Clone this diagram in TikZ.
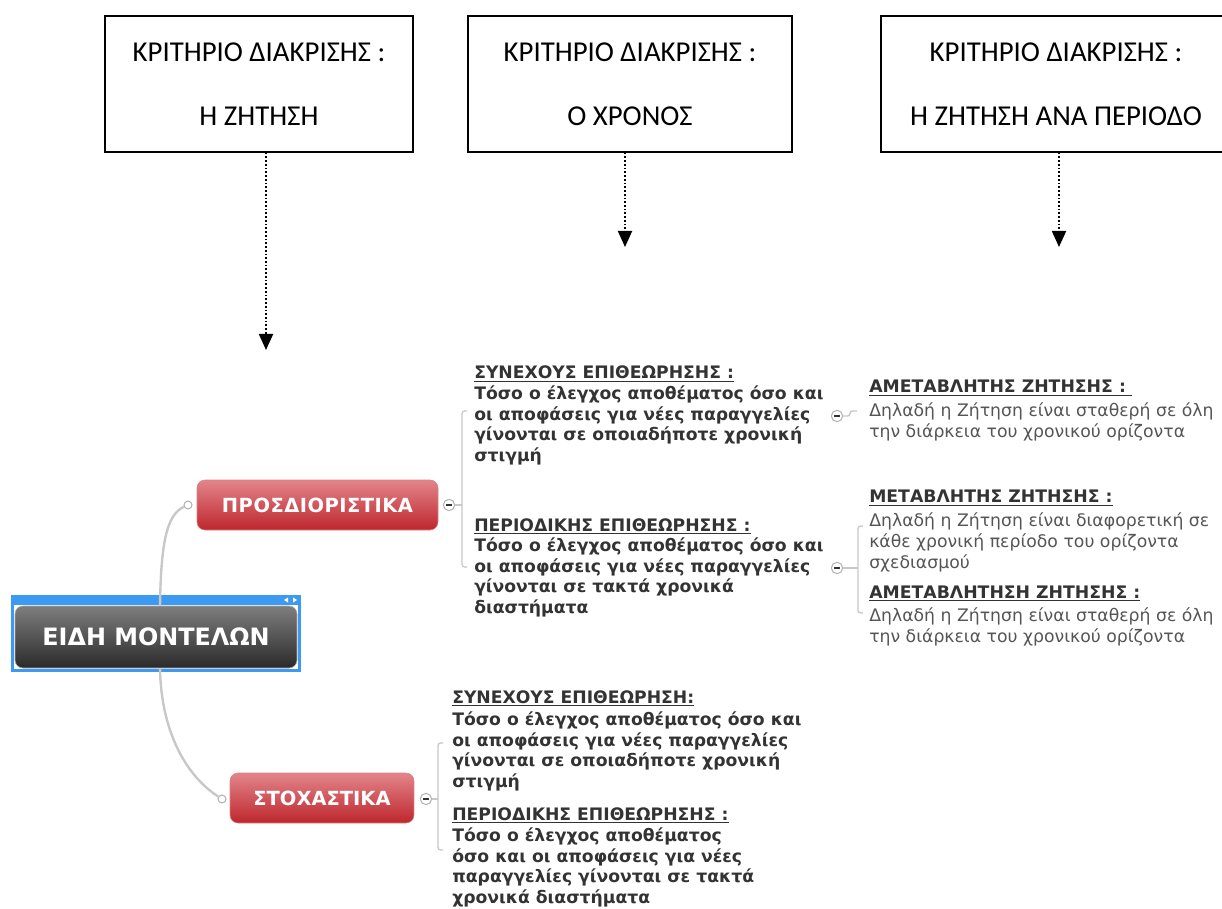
\documentclass[tikz,border=0pt]{standalone}
\usepackage{fontspec}
\setmainfont{Carlito}
\newfontfamily\mapfont{DejaVu Sans}
\usetikzlibrary{arrows.meta,calc}

\definecolor{frameblue}{HTML}{3D9AF2}
\definecolor{linkgray}{HTML}{C8C8C8}
\definecolor{knobgray}{HTML}{B4B4B4}
\definecolor{inkdark}{HTML}{333333}
\definecolor{inkmid}{HTML}{555555}
\definecolor{redtop}{HTML}{E2858A}
\definecolor{redmid}{HTML}{C42930}
\definecolor{redbot}{HTML}{BE262D}
\definecolor{greytop}{HTML}{7E7E7E}
\definecolor{greymid}{HTML}{363636}
\definecolor{greybot}{HTML}{2A2A2A}

% a heavier underline for the topic headings
\newcommand{\headline}[1]{\underline{#1}}

\tikzset{
  critbox/.style={draw=black, line width=1.1pt, align=center, inner sep=0pt,
    font=\fontsize{21.6}{48}\selectfont, minimum height=102pt},
  critlink/.style={line width=1.4pt, dash pattern=on 1.3pt off 1.5pt,
    -{Triangle[width=10.5pt,length=12pt]}},
  rootbox/.style={rounded corners=6pt, draw=gray!70, top color=greytop,
    middle color=greymid, bottom color=greybot, text=white, inner sep=0pt,
    font=\mapfont\bfseries\fontsize{17.9}{20}\selectfont,
    minimum width=211.5pt, minimum height=46.5pt},
  redbox/.style={rounded corners=6pt, draw=redmid!60!white, top color=redtop,
    middle color=redmid, bottom color=redbot, text=white, inner sep=0pt,
    font=\mapfont\bfseries\fontsize{14.6}{17}\selectfont, minimum height=37.5pt},
  knob/.style={circle, draw=knobgray, fill=white, line width=0.8pt,
    minimum size=6pt, inner sep=0pt},
  fold/.style={circle, draw=knobgray, fill=white, line width=0.8pt,
    minimum size=8.5pt, inner sep=0pt,
    path picture={\draw[line width=1.1pt, inkdark]
      ([xshift=-2.3pt]path picture bounding box.center) --
      ([xshift=2.3pt]path picture bounding box.center);}},
  trunk/.style={draw=linkgray, line width=1.8pt},
  twig/.style={draw=linkgray, line width=1pt, rounded corners=2pt},
  topicbold/.style={anchor=base west, inner sep=0pt, text=inkdark,
    font=\mapfont\bfseries\fontsize{12.9}{15.4}\selectfont},
  topicplain/.style={anchor=base west, inner sep=0pt, text=inkmid,
    font=\mapfont\fontsize{12.95}{15.6}\selectfont},
}

\begin{document}
\begin{tikzpicture}[x=0.75pt,y=-0.75pt]
\useasboundingbox (0,0) rectangle (1222,909);

% criteria boxes
\node[critbox, minimum width=231pt] (box1) at (259,84)
  {ΚΡΙΤΗΡΙΟ ΔΙΑΚΡΙΣΗΣ :\\Η ΖΗΤΗΣΗ};
\node[critbox, minimum width=243pt] (box2) at (630,84)
  {ΚΡΙΤΗΡΙΟ ΔΙΑΚΡΙΣΗΣ :\\Ο ΧΡΟΝΟΣ};
\node[critbox, minimum width=262.5pt] (box3) at (1056,84)
  {ΚΡΙΤΗΡΙΟ ΔΙΑΚΡΙΣΗΣ :\\Η ΖΗΤΗΣΗ ΑΝΑ ΠΕΡΙΟΔΟ};

\coordinate (t1) at (266,350);
\coordinate (t2) at (625,247);
\coordinate (t3) at (1059,247);
\draw[critlink] (box1.south -| t1) -- (t1);
\draw[critlink] (box2.south -| t2) -- (t2);
\draw[critlink] (box3.south -| t3) -- (t3);

% central topic with its selection frame
\fill[frameblue] (11,595) rectangle (301,672);
\fill[white] (14,605) rectangle (298,669);
\fill[white] (284,600) -- (288,597.5) -- (288,602.5) -- cycle;
\fill[white] (297,600) -- (293,597.5) -- (293,602.5) -- cycle;
\node[rootbox] (root) at (156,637) {ΕΙΔΗ ΜΟΝΤΕΛΩΝ};

% main branches
\node[redbox, minimum width=180.75pt] (prosd) at (317.5,505)
  {\addfontfeature{LetterSpace=2.5}ΠΡΟΣΔΙΟΡΙΣΤΙΚΑ};
\node[redbox, minimum width=138pt] (stoch) at (322,798) {ΣΤΟΧΑΣΤΙΚΑ};
\node[knob] (k1) at (188,505) {};
\node[knob] (k2) at (222,799) {};
\draw[trunk] ($(root.north)+(4,0)$) .. controls (161,545) and (166,515) .. (k1);
\draw[trunk] ($(root.south)+(4,0)$) .. controls (161,730) and (185,775) .. (k2);

\node[fold] (m1) at (449,505) {};
\node[fold] (m2) at (426,799) {};

% subtopics
\node[topicbold] (tA) at (474,379) {\parbox[t]{300pt}{\raggedright
  \headline{ΣΥΝΕΧΟΥΣ ΕΠΙΘΕΩΡΗΣΗΣ :}\\
  Τόσο ο έλεγχος αποθέματος όσο και\\
  οι αποφάσεις για νέες παραγγελίες\\
  γίνονται σε οποιαδήποτε χρονική\\
  στιγμή}};
\node[topicbold] (tB) at (474,531) {\parbox[t]{300pt}{\raggedright
  \headline{ΠΕΡΙΟΔΙΚΗΣ ΕΠΙΘΕΩΡΗΣΗΣ :}\\
  Τόσο ο έλεγχος αποθέματος όσο και\\
  οι αποφάσεις για νέες παραγγελίες\\
  γίνονται σε τακτά χρονικά\\
  διαστήματα}};
\node[topicbold] (tD1) at (452,703) {\parbox[t]{300pt}{\raggedright
  \headline{ΣΥΝΕΧΟΥΣ ΕΠΙΘΕΩΡΗΣΗ:}\\[1.5pt]
  Τόσο ο έλεγχος αποθέματος όσο και\\
  οι αποφάσεις για νέες παραγγελίες\\
  γίνονται σε οποιαδήποτε χρονική\\
  στιγμή}};
\node[topicbold] (tD2) at (452,820) {\parbox[t]{300pt}{\raggedright
  \headline{ΠΕΡΙΟΔΙΚΗΣ ΕΠΙΘΕΩΡΗΣΗΣ :}\\[1pt]
  Τόσο ο έλεγχος αποθέματος\\
  όσο και οι αποφάσεις για νέες\\
  παραγγελίες γίνονται σε τακτά\\
  χρονικά διαστήματα}};

\node[fold] (m3) at (837,416) {};
\node[fold] (m4) at (837,568) {};

\node[topicplain] (tR) at (869,393) {\parbox[t]{300pt}{\raggedright
  \textbf{\color{inkdark}\headline{ΑΜΕΤΑΒΛΗΤΗΣ ΖΗΤΗΣΗΣ : }}\\[2.3pt]
  Δηλαδή η Ζήτηση είναι σταθερή σε όλη\\
  την διάρκεια του χρονικού ορίζοντα}};
\node[topicplain] (tC1) at (869,503) {\parbox[t]{300pt}{\raggedright
  \textbf{\color{inkdark}\headline{ΜΕΤΑΒΛΗΤΗΣ ΖΗΤΗΣΗΣ :}}\\[2.3pt]
  Δηλαδή η Ζήτηση είναι διαφορετική σε\\
  κάθε χρονική περίοδο του ορίζοντα\\
  σχεδιασμού}};
\node[topicplain] (tC2) at (869,598) {\parbox[t]{300pt}{\raggedright
  \textbf{\color{inkdark}\headline{ΑΜΕΤΑΒΛΗΤΗΣΗ ΖΗΤΗΣΗΣ :}}\\[2.3pt]
  Δηλαδή η Ζήτηση είναι σταθερή σε όλη\\
  την διάρκεια του χρονικού ορίζοντα}};

% brackets joining each fold to its subtopics
\coordinate (j1) at (462,505);
\coordinate (a1) at (467,411);
\coordinate (b1) at (467,567);
\draw[twig] (m1) -- (j1);
\draw[twig] (a1) -| (j1) |- (b1);

\coordinate (j2) at (438,799);
\coordinate (d1) at (443,743);
\coordinate (d2) at (443,850);
\draw[twig] (m2) -- (j2);
\draw[twig] (d1) -| (j2) |- (d2);

\coordinate (j3) at (858,568);
\coordinate (c1) at (863,526);
\coordinate (c2) at (863,613);
\draw[twig] (m4) -- (j3);
\draw[twig] (c1) -| (j3) |- (c2);

\coordinate (r1) at (857,411);
\draw[twig] (m3) -- (850,416) |- (r1);
\end{tikzpicture}
\end{document}
